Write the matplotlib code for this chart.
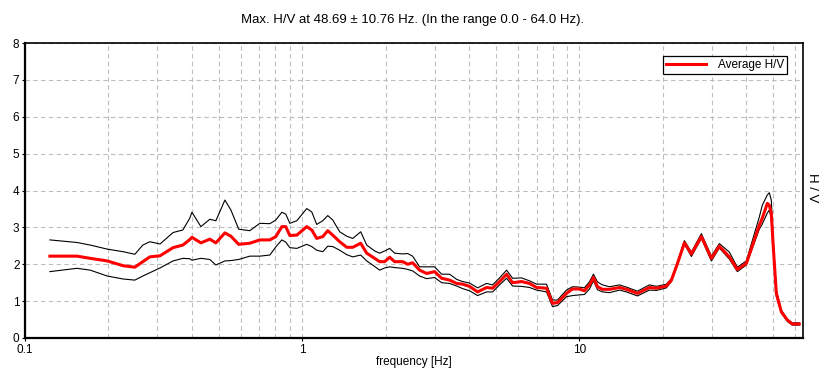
import matplotlib
matplotlib.use("Agg")
import matplotlib.pyplot as plt
from matplotlib.ticker import FixedLocator, NullFormatter
import numpy as np

plt.rcParams['font.family'] = ['Liberation Sans', 'DejaVu Sans']

freq = [0.123, 0.154, 0.172, 0.198, 0.226, 0.249, 0.266, 0.282, 0.307, 0.342,
        0.371, 0.393, 0.400, 0.431, 0.464, 0.488, 0.526, 0.553, 0.590, 0.647,
        0.703, 0.764, 0.803, 0.844, 0.872, 0.902, 0.956, 1.038, 1.082, 1.128,
        1.186, 1.236, 1.288, 1.365, 1.447, 1.521, 1.625, 1.708, 1.825, 1.902,
        1.983, 2.067, 2.154, 2.302, 2.400, 2.501, 2.651, 2.809, 3.002, 3.182,
        3.400, 3.605, 3.788, 4.014, 4.290, 4.623, 4.859, 5.149, 5.458, 5.737,
        6.180, 6.604, 6.998, 7.604, 7.992, 8.330, 8.976, 9.436, 10.00, 10.42,
        10.87, 11.23, 11.61, 12.10, 12.83, 13.94, 14.77, 16.18, 17.88, 18.95,
        20.58, 21.46, 22.56, 23.90, 25.33, 27.52, 29.90, 31.95, 34.71, 37.10,
        39.97, 44.52, 45.64, 47.59, 48.38, 49.18, 50.00, 51.28, 53.45, 56.18,
        58.55, 62.05]

hv_avg = [2.22, 2.22, 2.16, 2.09, 1.96, 1.92, 2.07, 2.20, 2.23, 2.45,
          2.52, 2.67, 2.73, 2.58, 2.68, 2.58, 2.85, 2.76, 2.54, 2.57,
          2.66, 2.66, 2.75, 3.02, 3.02, 2.78, 2.79, 3.02, 2.93, 2.70,
          2.75, 2.91, 2.79, 2.61, 2.46, 2.46, 2.57, 2.30, 2.16, 2.07,
          2.07, 2.19, 2.07, 2.07, 2.00, 2.04, 1.84, 1.75, 1.80, 1.62,
          1.57, 1.48, 1.46, 1.40, 1.25, 1.37, 1.35, 1.53, 1.73, 1.50,
          1.53, 1.48, 1.37, 1.35, 0.94, 0.96, 1.21, 1.33, 1.33, 1.28,
          1.44, 1.64, 1.39, 1.32, 1.32, 1.37, 1.32, 1.21, 1.37, 1.35,
          1.41, 1.57, 2.02, 2.58, 2.28, 2.75, 2.16, 2.49, 2.20, 1.86,
          2.02, 3.06, 3.25, 3.65, 3.60, 3.38, 2.47, 1.21, 0.71, 0.49,
          0.38, 0.38]

hv_upper = [2.66, 2.59, 2.52, 2.41, 2.34, 2.27, 2.52, 2.61, 2.55, 2.86,
            2.93, 3.25, 3.41, 3.02, 3.22, 3.18, 3.74, 3.47, 2.95, 2.91,
            3.11, 3.10, 3.20, 3.41, 3.36, 3.11, 3.18, 3.51, 3.42, 3.08,
            3.18, 3.32, 3.20, 2.88, 2.76, 2.70, 2.88, 2.52, 2.36, 2.30,
            2.36, 2.43, 2.30, 2.28, 2.29, 2.22, 1.93, 1.93, 1.93, 1.73,
            1.73, 1.59, 1.53, 1.49, 1.36, 1.48, 1.44, 1.63, 1.84, 1.62,
            1.63, 1.55, 1.46, 1.46, 1.03, 1.03, 1.30, 1.39, 1.38, 1.36,
            1.53, 1.73, 1.52, 1.44, 1.39, 1.44, 1.38, 1.27, 1.44, 1.40,
            1.46, 1.61, 2.06, 2.64, 2.33, 2.83, 2.22, 2.56, 2.33, 1.92,
            2.09, 3.28, 3.60, 3.88, 3.94, 3.74, 2.66, 1.30, 0.76, 0.51,
            0.41, 0.41]

hv_lower = [1.80, 1.89, 1.84, 1.68, 1.60, 1.57, 1.68, 1.77, 1.90, 2.09,
            2.16, 2.15, 2.11, 2.16, 2.13, 1.98, 2.09, 2.10, 2.13, 2.22,
            2.22, 2.25, 2.47, 2.66, 2.60, 2.45, 2.43, 2.54, 2.48, 2.38,
            2.34, 2.49, 2.48, 2.38, 2.26, 2.20, 2.25, 2.09, 1.94, 1.84,
            1.90, 1.93, 1.91, 1.89, 1.86, 1.82, 1.68, 1.61, 1.64, 1.50,
            1.48, 1.41, 1.34, 1.28, 1.15, 1.25, 1.25, 1.44, 1.62, 1.41,
            1.40, 1.37, 1.30, 1.25, 0.85, 0.88, 1.12, 1.15, 1.17, 1.18,
            1.33, 1.55, 1.31, 1.25, 1.23, 1.30, 1.25, 1.14, 1.30, 1.29,
            1.36, 1.53, 1.98, 2.55, 2.21, 2.70, 2.09, 2.44, 2.14, 1.80,
            1.98, 2.95, 3.09, 3.39, 3.47, 3.25, 2.38, 1.14, 0.68, 0.45,
            0.35, 0.35]

title = "Max. H/V at 48.69 \u00b1 10.76 Hz. (In the range 0.0 - 64.0 Hz)."
x_ticks = [0.1, 1, 10]
x_ticklabels = ["0.1", "1", "10"]
y_ticks = [0, 1, 2, 3, 4, 5, 6, 7, 8]

W, H = 826, 381
fig = plt.figure(figsize=(W / 100, H / 100), dpi=100)
ax = fig.add_axes([25 / W, 1 - 338 / H, (803 - 25) / W, (338 - 43) / H])

ax.plot(freq, hv_upper, color='black', lw=0.8, zorder=3)
ax.plot(freq, hv_lower, color='black', lw=0.8, zorder=3)
ax.plot(freq, hv_avg, color='#ff0000', lw=2.2, zorder=4, label='Average H/V')

ax.set_xscale('log')
ax.set_xlim(0.1, 64)
ax.set_ylim(0, 8)

minor = []
for d in [0.1, 1, 10]:
    for k in range(2, 10):
        v = d * k
        if v < 64:
            minor.append(v)
ax.xaxis.set_major_locator(FixedLocator(x_ticks))
ax.set_xticklabels(x_ticklabels)
ax.xaxis.set_minor_locator(FixedLocator(minor))
ax.xaxis.set_minor_formatter(NullFormatter())
ax.set_yticks(y_ticks)

ax.grid(True, which='both', axis='x', color='#bdbdbd', linestyle=(0, (4, 3)), lw=0.8)
ax.grid(True, which='major', axis='y', color='#bdbdbd', linestyle=(0, (4, 3)), lw=0.8)
ax.tick_params(axis='both', which='both', length=2, labelsize=8.5, pad=2, color='black')
ax.tick_params(axis='x', which='minor', length=0)

for s in ['left', 'bottom']:
    ax.spines[s].set_linewidth(1.6)
for s in ['top', 'right']:
    ax.spines[s].set_linewidth(1.2)

ax.set_xlabel('frequency [Hz]', fontsize=8.5, labelpad=0)
fig.text(812 / W, 1 - 188 / H, 'H / V', rotation=270, fontsize=9.5,
         ha='center', va='center')
fig.text(413 / W, 1 - 20 / H, title, fontsize=9.5, ha='center', va='center')

leg = ax.legend(loc='upper right', bbox_to_anchor=(787 / W, 1 - 56 / H),
                bbox_transform=fig.transFigure, fontsize=8.5, frameon=True,
                fancybox=False, framealpha=1, edgecolor='black',
                handlelength=3.4, borderpad=0.25, handletextpad=1.0,
                borderaxespad=0)
leg.get_frame().set_linewidth(0.9)

fig.savefig('out.png', dpi=100)
